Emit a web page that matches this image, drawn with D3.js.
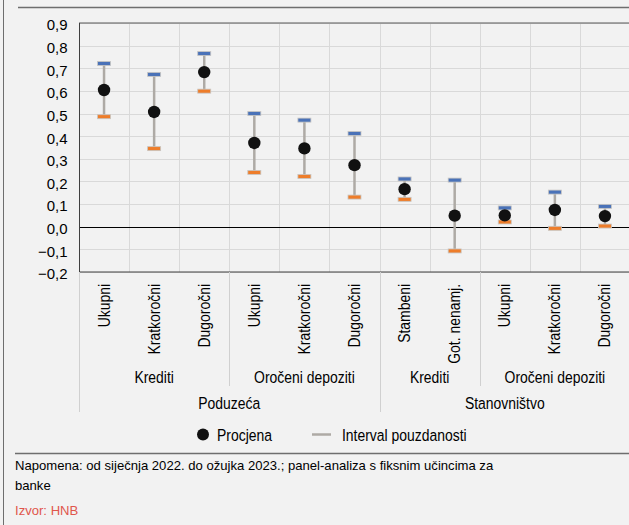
<!DOCTYPE html>
<html><head><meta charset="utf-8">
<script src="https://cdn.jsdelivr.net/npm/d3@7"></script>
<style>
html,body{margin:0;padding:0;background:#f2f2f2;}
svg{display:block;}
</style></head>
<body>
<script>
const categories = ["Ukupni","Kratkoročni","Dugoročni","Ukupni","Kratkoročni","Dugoročni","Stambeni","Got. nenamj.","Ukupni","Kratkoročni","Dugoročni"];
const estimate = [0.604,0.507,0.683,0.370,0.346,0.272,0.166,0.049,0.050,0.074,0.047];
const upper    = [0.721,0.673,0.765,0.500,0.471,0.412,0.211,0.206,0.083,0.153,0.090];
const lower    = [0.486,0.345,0.599,0.240,0.222,0.131,0.121,-0.107,0.021,-0.007,0.003];
const level2 = [["Krediti",0,3],["Oročeni depoziti",3,6],["Krediti",6,8],["Oročeni depoziti",8,11]];
const level3 = [["Poduzeća",0,6],["Stanovništvo",6,11]];
const yTicks = [-0.2,-0.1,0,0.1,0.2,0.3,0.4,0.5,0.6,0.7,0.8,0.9];
const legendLabels = ["Procjena","Interval pouzdanosti"];
const note = ["Napomena: od siječnja 2022. do ožujka 2023.; panel-analiza s fiksnim učincima za","banke"];
const source = "Izvor: HNB";

const W = 629, H = 525;
const FONT = "'Liberation Sans',Arial,Helvetica,sans-serif";
const SX = 0.82, FS = 17;
const svg = d3.select("body").append("svg").attr("width", W).attr("height", H);

// condensed text helper
function ctext(sel, anchor) {
  return sel.attr("text-anchor", anchor).attr("font-family", FONT).attr("font-size", FS).attr("fill", "#000");
}

// frame
svg.append("line").attr("x1",3.5).attr("x2",3.5).attr("y1",0).attr("y2",H).attr("stroke","#6e6e6e").attr("stroke-width",1);
svg.append("line").attr("x1",18).attr("x2",W).attr("y1",7.5).attr("y2",7.5).attr("stroke","#6e6e6e").attr("stroke-width",1.5);
svg.append("line").attr("x1",15).attr("x2",W).attr("y1",453.5).attr("y2",453.5).attr("stroke","#6e6e6e").attr("stroke-width",1.5);

const x = d3.scaleBand().domain(d3.range(categories.length)).range([79, 630]).padding(0);
const y = d3.scaleLinear().domain([-0.2, 0.9]).range([272, 23]);

const g = svg.append("g");
// horizontal grid
g.selectAll(".hg").data(yTicks).join("line")
  .attr("x1",79).attr("x2",630).attr("y1",d=>Math.round(y(d))+0.5).attr("y2",d=>Math.round(y(d))+0.5)
  .attr("stroke","#d9d9d9").attr("stroke-width",1);
// vertical grid
g.selectAll(".vg").data(d3.range(1,categories.length)).join("line")
  .attr("x1",d=>Math.round(x(d))+0.5).attr("x2",d=>Math.round(x(d))+0.5).attr("y1",23).attr("y2",272)
  .attr("stroke","#d9d9d9").attr("stroke-width",1);
// zero line
g.append("line").attr("x1",79).attr("x2",630).attr("y1",Math.round(y(0))+0.5).attr("y2",Math.round(y(0))+0.5).attr("stroke","#000").attr("stroke-width",1);
// plot borders
g.append("line").attr("x1",79).attr("x2",630).attr("y1",23).attr("y2",23).attr("stroke","#595959").attr("stroke-width",1);
g.append("line").attr("x1",79).attr("x2",630).attr("y1",272).attr("y2",272).attr("stroke","#404040").attr("stroke-width",1);
g.append("line").attr("x1",79.5).attr("x2",79.5).attr("y1",23).attr("y2",272).attr("stroke","#404040").attr("stroke-width",1);

// y axis labels
const fmt = d => d3.format(".1f")(d).replace(".",",").replace("-","−").replace("−0,0","0,0");
const yAxis = d3.axisLeft(y).tickValues(yTicks).tickSize(0).tickPadding(11.5).tickFormat(fmt);
const ya = svg.append("g").attr("transform","translate(79,0)").call(yAxis);
ya.select(".domain").remove();
ya.selectAll("text").attr("font-family",FONT).attr("font-size",15).attr("fill","#000").attr("dy","0.46em");

// error bars
const cx = i => x(i) + x.bandwidth()/2;
const idx = d3.range(categories.length);
g.selectAll(".eb").data(idx).join("line")
  .attr("x1",cx).attr("x2",cx).attr("y1",i=>y(upper[i])).attr("y2",i=>y(lower[i]))
  .attr("stroke","#aeaaa5").attr("stroke-width",2.5);
g.selectAll(".capU").data(idx).join("rect")
  .attr("x",i=>cx(i)-6.5).attr("y",i=>y(upper[i])-2).attr("width",13).attr("height",4)
  .attr("fill","#4a72b8").attr("stroke","#c8c6c3").attr("stroke-width",0.8);
g.selectAll(".capL").data(idx).join("rect")
  .attr("x",i=>cx(i)-6.5).attr("y",i=>y(lower[i])-2).attr("width",13).attr("height",4)
  .attr("fill","#ee7d2a").attr("stroke","#c8c6c3").attr("stroke-width",0.8);
g.selectAll(".pt").data(idx).join("circle")
  .attr("cx",cx).attr("cy",i=>y(estimate[i])).attr("r",6.2).attr("fill","#111");

// x category labels (rotated, condensed)
ctext(svg.selectAll(".xl").data(idx).join("text")
  .attr("transform",i=>`translate(${cx(i)+5.5},284) rotate(-90) scale(${SX},1)`), "end")
  .text(i=>categories[i]);

// group separators
const sep = [[0,412],[3,386],[6,412],[8,386]];
svg.selectAll(".sep").data(sep).join("line")
  .attr("x1",d=>Math.round(x(d[0]))+0.5).attr("x2",d=>Math.round(x(d[0]))+0.5)
  .attr("y1",272).attr("y2",d=>d[1]).attr("stroke","#d0d0d0").attr("stroke-width",1);

const spanC = (a,b) => (x(a) + (b>=categories.length ? 630 : x(b)))/2;
ctext(svg.selectAll(".l2").data(level2).join("text")
  .attr("transform",d=>`translate(${spanC(d[1],d[2])},382.5) scale(${SX},1)`), "middle").text(d=>d[0]);
ctext(svg.selectAll(".l3").data(level3).join("text")
  .attr("transform",d=>`translate(${spanC(d[1],d[2])},408.5) scale(${SX},1)`), "middle").text(d=>d[0]);

// legend
const ly = 434.5;
svg.append("circle").attr("cx",203).attr("cy",ly).attr("r",6).attr("fill","#111");
ctext(svg.append("text").attr("transform",`translate(217,440.5) scale(${SX},1)`), "start").text(legendLabels[0]);
svg.append("line").attr("x1",312).attr("x2",331).attr("y1",ly).attr("y2",ly).attr("stroke","#aeaaa5").attr("stroke-width",2.5);
ctext(svg.append("text").attr("transform",`translate(342,440.5) scale(${SX},1)`), "start").text(legendLabels[1]);

// footer
svg.selectAll(".note").data(note).join("text")
  .attr("x",15).attr("y",(d,i)=>470+i*19.5).attr("font-family",FONT)
  .attr("font-size",13.1).attr("fill","#000").text(d=>d);
svg.append("text").attr("x",15).attr("y",515).attr("font-family",FONT)
  .attr("font-size",13.1).attr("fill","#e0564c").text(source);
</script>
</body></html>
